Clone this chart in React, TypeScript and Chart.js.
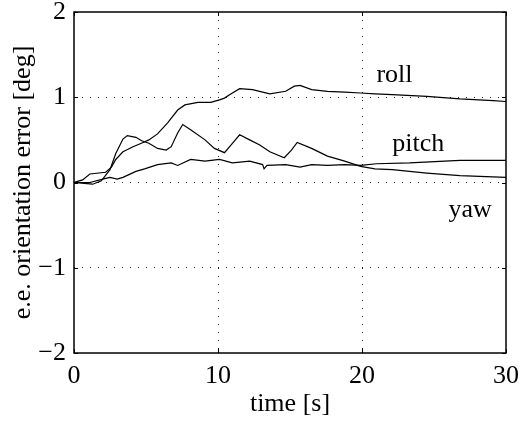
import React, { useEffect, useRef } from "react";
import { Chart, registerables } from "chart.js";

Chart.register(...registerables);

// roll
const rollT = [0, 0.6, 1.1, 2.2, 2.6, 2.9, 3.4, 4.1, 4.8, 5.2, 5.8, 6.5, 7.2, 7.7, 8.6, 9.5, 10.1, 10.45, 10.8, 11.5, 12.4, 13.6, 14.7, 15.3, 15.7, 16.5, 17.6, 18.8, 19.9, 20.9, 22.1, 24.5, 26.8, 29.1, 30];
const rollV = [0, 0.03, 0.10, 0.12, 0.18, 0.27, 0.36, 0.42, 0.47, 0.50, 0.57, 0.70, 0.85, 0.91, 0.94, 0.94, 0.97, 0.99, 1.03, 1.10, 1.09, 1.04, 1.07, 1.13, 1.14, 1.09, 1.07, 1.06, 1.05, 1.04, 1.03, 1.01, 0.98, 0.96, 0.95];

// pitch (flat curve)
const pitchT = [0, 1.1, 2.0, 2.5, 3.0, 3.4, 4.3, 4.9, 5.8, 6.75, 7.2, 8.1, 9.1, 10.1, 11.0, 12.2, 13.1, 13.2, 13.4, 14.7, 15.7, 16.5, 17.6, 18.8, 19.9, 21.0, 23.3, 26.8, 30];
const pitchV = [0, 0.0, 0.04, 0.06, 0.04, 0.06, 0.13, 0.16, 0.21, 0.23, 0.20, 0.27, 0.25, 0.27, 0.23, 0.25, 0.21, 0.16, 0.20, 0.21, 0.18, 0.21, 0.20, 0.21, 0.20, 0.22, 0.23, 0.26, 0.26];

// yaw (curve with humps)
const yawT = [0, 0.7, 1.3, 1.9, 2.5, 2.9, 3.4, 3.7, 4.3, 4.7, 5.2, 5.8, 6.4, 6.75, 7.2, 7.55, 8.1, 9.1, 9.75, 10.45, 11.0, 11.5, 12.2, 12.9, 13.6, 14.6, 15.1, 15.5, 16.5, 17.6, 18.8, 19.9, 20.9, 22.1, 24.5, 26.8, 30];
const yawV = [0, -0.01, -0.02, 0.02, 0.15, 0.34, 0.51, 0.55, 0.53, 0.49, 0.46, 0.40, 0.38, 0.42, 0.58, 0.68, 0.62, 0.50, 0.40, 0.35, 0.46, 0.56, 0.50, 0.44, 0.36, 0.29, 0.38, 0.47, 0.40, 0.31, 0.25, 0.19, 0.16, 0.15, 0.11, 0.08, 0.06];

const xTicks = [0, 10, 20, 30];
const xTickLabels = ["0", "10", "20", "30"];
const yTicks = [-2, -1, 0, 1, 2];
const yTickLabels = ["\u22122", "\u22121", "0", "1", "2"];

const curveLabels = ["roll", "pitch", "yaw"];
const curveLabelT = [21.0, 22.1, 26.0];
const curveLabelV = [1.18, 0.375, -0.41];

const xTitle = "time [s]";
const yTitle = "e.e. orientation error [deg]";

const FONT = "'Liberation Serif', 'Times New Roman', serif";

const toPts = (t: number[], v: number[]) => t.map((x, i) => ({ x, y: v[i] }));

const framePlugin = {
  id: "frame",
  afterDatasetsDraw(chart: any) {
    const { ctx, chartArea: a, scales } = chart;
    ctx.save();
    ctx.strokeStyle = "#000";
    ctx.lineWidth = 1;
    const tl = 4;
    ctx.beginPath();
    for (const v of xTicks) {
      const px = Math.round(scales.x.getPixelForValue(v)) + 0.5;
      ctx.moveTo(px, a.bottom);
      ctx.lineTo(px, a.bottom - tl);
      ctx.moveTo(px, a.top);
      ctx.lineTo(px, a.top + tl);
    }
    for (const v of yTicks) {
      const py = Math.round(scales.y.getPixelForValue(v)) + 0.5;
      ctx.moveTo(a.left, py);
      ctx.lineTo(a.left + tl, py);
      ctx.moveTo(a.right, py);
      ctx.lineTo(a.right - tl, py);
    }
    ctx.stroke();
    ctx.lineWidth = 1.5;
    ctx.strokeRect(a.left, a.top, a.right - a.left, a.bottom - a.top);
    ctx.fillStyle = "#000";
    ctx.font = `26px ${FONT}`;
    ctx.textAlign = "left";
    ctx.textBaseline = "alphabetic";
    curveLabels.forEach((s, i) => {
      ctx.fillText(s, scales.x.getPixelForValue(curveLabelT[i]), scales.y.getPixelForValue(curveLabelV[i]));
    });
    ctx.restore();
  },
};

export default function App() {
  const ref = useRef<HTMLCanvasElement | null>(null);
  useEffect(() => {
    if (!ref.current) return;
    const gridColor = (ctx: any) => {
      const v = ctx.tick ? ctx.tick.value : null;
      const sc = ctx.scale;
      if (v === sc.min || v === sc.max) return "rgba(0,0,0,0)";
      return "#222";
    };
    const chart = new Chart(ref.current, {
      type: "line",
      data: {
        datasets: [
          { label: "roll", data: toPts(rollT, rollV) },
          { label: "pitch", data: toPts(pitchT, pitchV) },
          { label: "yaw", data: toPts(yawT, yawV) },
        ].map((d) => ({
          ...d,
          borderColor: "#000",
          backgroundColor: "#000",
          borderWidth: 1.2,
          pointRadius: 0,
          tension: 0,
          fill: false,
        })),
      },
      options: {
        animation: false,
        responsive: false,
        devicePixelRatio: 1,
        layout: { padding: { left: 0, right: 16, top: 12, bottom: 0 } },
        plugins: { legend: { display: false }, tooltip: { enabled: false } },
        scales: {
          x: {
            type: "linear",
            min: 0,
            max: 30,
            afterBuildTicks: (s: any) => {
              s.ticks = xTicks.map((v) => ({ value: v }));
            },
            afterFit: (s: any) => {
              s.height = 70;
              s.paddingLeft = 0;
              s.paddingRight = 0;
            },
            ticks: {
              autoSkip: false,
              maxRotation: 0,
              padding: 11,
              color: "#000",
              font: { family: FONT, size: 26, lineHeight: 0.9 },
              callback: (_v: any, i: number) => xTickLabels[i],
            },
            grid: { color: gridColor, lineWidth: 1, drawTicks: false },
            border: { display: false, dash: [1, 7] },
            title: {
              display: true,
              text: xTitle,
              color: "#000",
              font: { family: FONT, size: 26 },
              padding: { top: 0, bottom: 3 },
            },
          },
          y: {
            type: "linear",
            min: -2,
            max: 2,
            afterBuildTicks: (s: any) => {
              s.ticks = yTicks.map((v) => ({ value: v }));
            },
            afterFit: (s: any) => {
              s.width = 74;
              s.paddingTop = 0;
              s.paddingBottom = 0;
            },
            ticks: {
              autoSkip: false,
              padding: 8,
              color: "#000",
              font: { family: FONT, size: 26, lineHeight: 0.9 },
              callback: (_v: any, i: number) => yTickLabels[i],
            },
            grid: { color: gridColor, lineWidth: 1, drawTicks: false },
            border: { display: false, dash: [1, 7] },
            title: {
              display: true,
              text: yTitle,
              color: "#000",
              font: { family: FONT, size: 26 },
              padding: { top: 8, bottom: 0 },
            },
          },
        },
      },
      plugins: [framePlugin],
    } as any);
    return () => chart.destroy();
  }, []);
  return (
    <div style={{ position: "fixed", left: 0, top: 0, width: 522, height: 423, background: "#fff" }}>
      <canvas ref={ref} width={522} height={423} style={{ width: 522, height: 423 }} />
    </div>
  );
}
